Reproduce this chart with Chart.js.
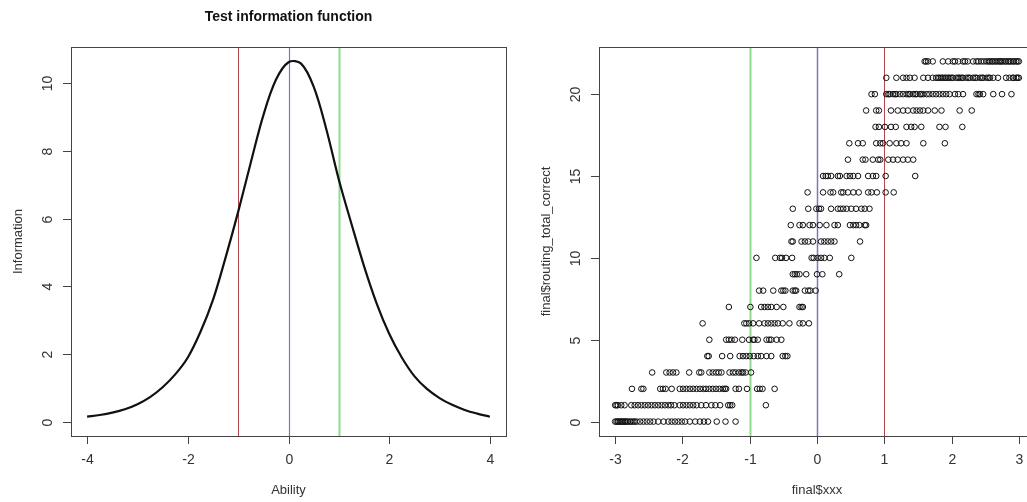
<!DOCTYPE html>
<html>
<head>
<meta charset="utf-8">
<script src="https://cdn.jsdelivr.net/npm/chart.js@4"></script>
<style>
  html, body { margin: 0; padding: 0; background: #fff; overflow: hidden; }
  #wrap { position: relative; width: 1027px; height: 502px; overflow: hidden; }
  #tifBox { position: absolute; left: 0; top: 0; width: 513px; height: 502px; }
  #scatterBox { position: absolute; left: 513px; top: 0; width: 530px; height: 502px; }
</style>
</head>
<body>
<div id="wrap">
  <div id="tifBox"><canvas id="tif"></canvas></div>
  <div id="scatterBox"><canvas id="scatter"></canvas></div>
</div>
<script>
// ==============================
// DATA - test information function
// ==============================
const abilityGrid = [-4, -3.75, -3.5, -3.25, -3, -2.75, -2.5, -2.25, -2, -1.75, -1.5, -1.25, -1, -0.75, -0.5, -0.25,
    0, 0.25, 0.5, 0.75, 1, 1.25, 1.5, 1.75, 2, 2.25, 2.5, 2.75, 3, 3.25, 3.5, 3.75, 4];
const infoValues = [0.15, 0.2, 0.27, 0.37, 0.52, 0.73, 1.02, 1.4, 1.9, 2.65, 3.6, 4.85, 6.2, 7.65, 9.05, 10.1,
    10.62, 10.58, 9.9, 8.65, 7.15, 5.85, 4.6, 3.5, 2.6, 1.9, 1.35, 0.97, 0.7, 0.5, 0.35, 0.24, 0.15];
const tifTicksX = [-4, -2, 0, 2, 4];
const tifTicksY = [0, 2, 4, 6, 8, 10];

// ==============================
// DATA - scatter (ability by total correct)
// ==============================
const totalCorrect = [0, 1, 2, 3, 4, 5, 6, 7, 8, 9, 10, 11, 12, 13, 14, 15, 16, 17, 18, 19, 20, 21, 22];
const abilityByScore = [
    [-3.00, -2.98, -2.96, -2.93, -2.91, -2.88, -2.86, -2.83, -2.81, -2.78, -2.76, -2.73, -2.71, -2.68, -2.63, -2.58, -2.53, -2.48,
     -2.43, -2.36, -2.28, -2.21, -2.16, -2.11, -2.06, -2.01, -1.96, -1.89, -1.81, -1.74, -1.68, -1.62, -1.49, -1.36, -1.21, -2.95, -2.90, -2.85],
    [-3.00, -2.98, -2.96, -2.91, -2.86, -2.76, -2.71, -2.66, -2.61, -2.56, -2.51, -2.46, -2.41, -2.36, -2.31, -2.26, -2.21, -2.17,
     -2.12, -2.04, -1.99, -1.94, -1.89, -1.84, -1.79, -1.72, -1.65, -1.57, -1.51, -1.44, -1.32, -1.29, -1.26, -0.76],
    [-2.75, -2.61, -2.58, -2.33, -2.29, -2.25, -2.16, -2.04, -1.99, -1.94, -1.89, -1.84, -1.79, -1.74, -1.69, -1.65, -1.60, -1.55,
     -1.50, -1.45, -1.40, -1.37, -1.35, -1.21, -1.16, -1.04, -0.89, -0.85, -0.81, -0.63],
    [-2.45, -2.24, -2.19, -2.14, -2.09, -1.90, -1.75, -1.72, -1.60, -1.55, -1.50, -1.46, -1.42, -1.30, -1.25, -1.21, -1.16, -1.12,
     -1.10, -1.06, -0.98],
    [-1.63, -1.61, -1.41, -1.29, -1.15, -1.10, -1.05, -1.00, -0.94, -0.88, -0.83, -0.75, -0.68, -0.51, -0.47, -0.44],
    [-1.60, -1.35, -1.31, -1.27, -1.22, -1.11, -1.01, -0.95, -0.93, -0.88, -0.75, -0.71, -0.68, -0.60, -0.53],
    [-1.70, -1.08, -1.05, -1.01, -0.95, -0.86, -0.78, -0.73, -0.68, -0.63, -0.58, -0.51, -0.41, -0.26, -0.21, -0.12],
    [-1.31, -0.99, -0.83, -0.78, -0.73, -0.68, -0.60, -0.50, -0.26, -0.23, -0.21],
    [-0.86, -0.80, -0.65, -0.53, -0.50, -0.47, -0.36, -0.33, -0.31, -0.18, -0.13, -0.10, -0.02],
    [-0.36, -0.33, -0.30, -0.26, -0.16, 0.00, 0.08, 0.33],
    [-0.90, -0.62, -0.55, -0.52, -0.46, -0.37, -0.08, -0.05, 0.01, 0.06, 0.11, 0.19, 0.51],
    [-0.38, -0.36, -0.23, -0.18, -0.13, -0.06, 0.06, 0.11, 0.16, 0.21, 0.26, 0.64],
    [-0.39, -0.26, -0.21, -0.11, -0.06, 0.04, 0.14, 0.26, 0.31, 0.49, 0.54, 0.58, 0.63, 0.71, 0.73],
    [-0.36, -0.13, -0.01, 0.03, 0.06, 0.21, 0.31, 0.35, 0.39, 0.44, 0.51, 0.58, 0.66, 0.71, 0.78],
    [-0.14, 0.09, 0.20, 0.24, 0.36, 0.39, 0.46, 0.54, 0.62, 0.76, 0.81, 0.89, 1.02, 1.14],
    [0.09, 0.13, 0.16, 0.21, 0.31, 0.34, 0.44, 0.49, 0.54, 0.61, 0.76, 0.83, 0.88, 1.02, 1.46],
    [0.46, 0.68, 0.72, 0.83, 0.91, 0.94, 1.06, 1.13, 1.20, 1.28, 1.35, 1.43],
    [0.48, 0.61, 0.68, 0.88, 0.94, 0.98, 1.08, 1.18, 1.25, 1.33, 1.58, 1.90],
    [0.87, 0.92, 1.01, 1.10, 1.17, 1.33, 1.40, 1.45, 1.55, 1.82, 1.91, 2.16],
    [0.73, 0.88, 0.92, 1.10, 1.20, 1.28, 1.35, 1.43, 1.48, 1.53, 1.58, 1.65, 1.75, 1.85, 2.12, 2.30],
    [0.81, 0.86, 1.03, 1.08, 1.13, 1.18, 1.23, 1.28, 1.33, 1.38, 1.43, 1.48, 1.53, 1.58, 1.63, 1.67, 1.72, 1.77, 1.82, 1.87,
     1.92, 1.97, 2.05, 2.10, 2.17, 2.37, 2.42, 2.47, 2.62, 2.75, 2.89, 1.06, 1.16, 1.36, 1.46, 1.55, 2.40],
    [1.03, 1.18, 1.28, 1.33, 1.38, 1.45, 1.58, 1.65, 1.72, 1.77, 1.82, 1.87, 1.92, 1.97, 2.02, 2.07, 2.12, 2.17, 2.22, 2.27,
     2.32, 2.37, 2.42, 2.47, 2.52, 2.57, 2.62, 2.69, 2.81, 2.86, 2.91, 2.96, 3.00, 1.80, 1.85, 1.90, 1.95, 2.00, 2.10, 2.15,
     2.25, 2.35, 2.45, 2.55, 2.92, 2.98],
    [1.60, 1.65, 1.72, 1.87, 1.95, 2.02, 2.10, 2.17, 2.24, 2.32, 2.37, 2.44, 2.52, 2.57, 2.62, 2.67, 2.72, 2.76, 2.81, 2.86,
     2.91, 2.96, 3.00, 2.40, 2.48, 2.55, 2.60, 2.65, 2.70, 2.74, 2.79, 2.84, 2.88, 2.93, 2.98, 1.62, 2.05, 2.20]
];
const scatterTicksX = [-3, -2, -1, 0, 1, 2, 3];
const scatterTicksY = [0, 5, 10, 15, 20];

// cut lines (value, colour, width)
const tifCuts = [[-1, '#b5454f', 1], [0, '#7a78bd', 1.2], [1, '#8fdc8f', 2]];
const scatterCuts = [[-1, '#8fdc8f', 2], [0, '#7a78bd', 1.5], [1, '#b5454f', 1]];

// ==============================
// R-like axes plugin
// ==============================
function rAxes(cfg) {
    return {
        id: 'rAxes',
        beforeDatasetsDraw(chart) {
            const { ctx, chartArea, scales } = chart;
            ctx.save();
            cfg.cuts.forEach(([v, col, w]) => {
                const px = Math.round(scales.x.getPixelForValue(v)) + 0.5;
                ctx.strokeStyle = col;
                ctx.lineWidth = w;
                ctx.beginPath();
                ctx.moveTo(px, chartArea.top);
                ctx.lineTo(px, chartArea.bottom);
                ctx.stroke();
            });
            ctx.restore();
        },
        afterDraw(chart) {
            const { ctx, chartArea, scales } = chart;
            const { left, right, top, bottom } = chartArea;
            ctx.save();
            ctx.strokeStyle = '#444';
            ctx.lineWidth = 1;
            ctx.strokeRect(Math.round(left) + 0.5, Math.round(top) + 0.5, Math.round(right - left), Math.round(bottom - top));

            ctx.fillStyle = '#333';
            ctx.font = '14px "Liberation Sans", Arial, sans-serif';

            // x ticks
            ctx.textAlign = 'center';
            ctx.textBaseline = 'middle';
            const xs = cfg.ticksX.map(v => Math.round(scales.x.getPixelForValue(v)) + 0.5);
            ctx.beginPath();
            xs.forEach(px => { ctx.moveTo(px, bottom); ctx.lineTo(px, bottom + 8); });
            ctx.stroke();
            cfg.ticksX.forEach((v, i) => ctx.fillText(String(v), xs[i], bottom + 24));

            // y ticks (rotated like R)
            const ys = cfg.ticksY.map(v => Math.round(scales.y.getPixelForValue(v)) + 0.5);
            ctx.beginPath();
            ys.forEach(py => { ctx.moveTo(left, py); ctx.lineTo(left - 8, py); });
            ctx.stroke();
            cfg.ticksY.forEach((v, i) => {
                ctx.save();
                ctx.translate(left - 23, ys[i]);
                ctx.rotate(-Math.PI / 2);
                ctx.fillText(String(v), 0, 0);
                ctx.restore();
            });

            // axis titles
            ctx.font = '13px "Liberation Sans", Arial, sans-serif';
            const cx = (left + right) / 2;
            ctx.fillText(cfg.xTitle, cx, bottom + 54);
            ctx.save();
            ctx.translate(left - 53, (top + bottom) / 2);
            ctx.rotate(-Math.PI / 2);
            ctx.fillText(cfg.yTitle, 0, 0);
            ctx.restore();

            if (cfg.title) {
                ctx.fillStyle = '#111';
                ctx.font = 'bold 14px "Liberation Sans", Arial, sans-serif';
                ctx.fillText(cfg.title, cx, 17);
            }
            ctx.restore();
        }
    };
}

const baseOptions = (xMin, xMax, yMin, yMax, pad) => ({
    responsive: false,
    animation: false,
    events: [],
    layout: { padding: pad },
    plugins: { legend: { display: false }, tooltip: { enabled: false }, title: { display: false } },
    scales: {
        x: { type: 'linear', min: xMin, max: xMax, display: false },
        y: { type: 'linear', min: yMin, max: yMax, display: false }
    }
});

// ==============================
// LEFT: test information function
// ==============================
const tifCanvas = document.getElementById('tif');
tifCanvas.width = 513;
tifCanvas.height = 502;
new Chart(tifCanvas.getContext('2d'), {
    type: 'scatter',
    data: {
        datasets: [{
            data: abilityGrid.map((a, i) => ({ x: a, y: infoValues[i] })),
            showLine: true,
            borderColor: '#111',
            borderWidth: 2.2,
            pointRadius: 0,
            tension: 0.35
        }]
    },
    options: baseOptions(-4.32, 4.32, -0.42, 11.07, { left: 71, right: 7, top: 47, bottom: 66 }),
    plugins: [rAxes({
        cuts: tifCuts, ticksX: tifTicksX, ticksY: tifTicksY,
        xTitle: 'Ability', yTitle: 'Information', title: 'Test information function'
    })]
});

// ==============================
// RIGHT: scatter
// ==============================
const scatterPoints = [];
totalCorrect.forEach((score, i) => {
    abilityByScore[i].forEach(a => scatterPoints.push({ x: a, y: score }));
});

const scCanvas = document.getElementById('scatter');
scCanvas.width = 530;
scCanvas.height = 502;
new Chart(scCanvas.getContext('2d'), {
    type: 'scatter',
    data: {
        datasets: [{
            data: scatterPoints,
            pointStyle: 'circle',
            pointRadius: 2.8,
            pointBorderWidth: 1,
            pointBorderColor: '#111',
            pointBackgroundColor: 'rgba(0,0,0,0)',
            clip: false
        }]
    },
    options: baseOptions(-3.24, 3.24, -0.88, 22.88, { left: 86, right: 8, top: 47, bottom: 66 }),
    plugins: [rAxes({
        cuts: scatterCuts, ticksX: scatterTicksX, ticksY: scatterTicksY,
        xTitle: 'final$xxx', yTitle: 'final$routing_total_correct'
    })]
});
</script>
</body>
</html>
